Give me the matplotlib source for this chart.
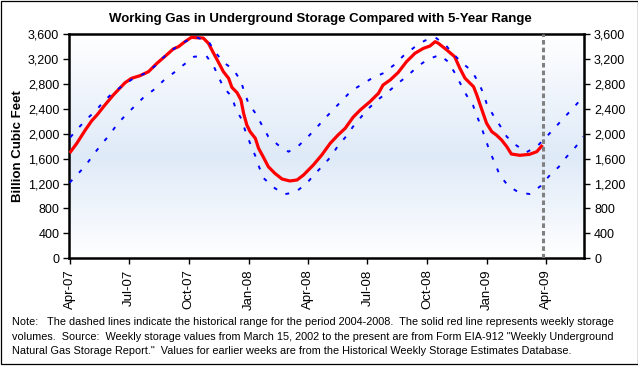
import numpy as np
import pandas as pd
import matplotlib
matplotlib.use("Agg")
import matplotlib.pyplot as plt
import matplotlib.dates as mdates
from matplotlib.colors import LinearSegmentedColormap
from matplotlib.patches import Rectangle

plt.rcParams['font.family'] = ['Liberation Sans', 'DejaVu Sans']

# weekly working gas in storage, Bcf
storage_dates = [
    "2007-04-01", "2007-04-12", "2007-04-25", "2007-05-05", "2007-05-13", "2007-05-23",
    "2007-06-07", "2007-06-25", "2007-07-05", "2007-07-18", "2007-07-31", "2007-08-13",
    "2007-08-26", "2007-09-07", "2007-09-15", "2007-09-25", "2007-10-05", "2007-10-13",
    "2007-10-23", "2007-10-31", "2007-11-08", "2007-11-15", "2007-11-23", "2007-12-01",
    "2007-12-06", "2007-12-14", "2007-12-20", "2007-12-24", "2007-12-29", "2008-01-03",
    "2008-01-11", "2008-01-16", "2008-01-23", "2008-01-31", "2008-02-10", "2008-02-21",
    "2008-03-04", "2008-03-15", "2008-03-25", "2008-04-04", "2008-04-09", "2008-04-22",
    "2008-05-05", "2008-05-17", "2008-05-28", "2008-06-09", "2008-06-20", "2008-07-05",
    "2008-07-18", "2008-07-25", "2008-08-05", "2008-08-17", "2008-08-30", "2008-09-12",
    "2008-09-25", "2008-10-05", "2008-10-13", "2008-10-18", "2008-10-31", "2008-11-12",
    "2008-11-20", "2008-11-28", "2008-12-11", "2008-12-16", "2008-12-23", "2008-12-31",
    "2009-01-08", "2009-01-15", "2009-01-23", "2009-01-31", "2009-02-07", "2009-02-20",
    "2009-03-07", "2009-03-18", "2009-03-27",
]
storage_values = [
    1690, 1846, 2059, 2209, 2300, 2433,
    2621, 2818, 2889, 2931, 2995, 3130,
    3247, 3359, 3396, 3477, 3547, 3540,
    3536, 3451, 3290, 3155, 2995, 2889,
    2744, 2658, 2541, 2327, 2139, 2032,
    1926, 1765, 1631, 1470, 1364, 1273,
    1241, 1257, 1337, 1444, 1497, 1658,
    1846, 1979, 2087, 2263, 2380, 2514,
    2648, 2781, 2862, 2979, 3155, 3290,
    3370, 3407, 3477, 3451, 3343, 3236,
    3049, 2889, 2754, 2621, 2407, 2167,
    2032, 1979, 1899, 1792, 1674, 1653,
    1669, 1711, 1818,
]

# 5-year range 2004-2008, upper bound
max_dates = [
    "2007-04-02", "2007-04-14", "2007-04-27", "2007-05-12", "2007-05-24", "2007-06-07",
    "2007-06-23", "2007-07-08", "2007-07-28", "2007-08-10", "2007-08-24", "2007-09-09",
    "2007-09-27", "2007-10-13", "2007-11-01", "2007-11-10", "2007-11-23", "2007-12-08",
    "2007-12-19", "2007-12-31", "2008-01-13", "2008-01-21", "2008-01-31", "2008-02-15",
    "2008-03-02", "2008-03-17", "2008-04-01", "2008-04-14", "2008-04-27", "2008-05-10",
    "2008-05-24", "2008-06-06", "2008-06-21", "2008-07-08", "2008-07-25", "2008-08-11",
    "2008-08-25", "2008-09-11", "2008-09-27", "2008-10-13", "2008-10-29", "2008-11-08",
    "2008-11-23", "2008-12-08", "2008-12-17", "2008-12-25", "2008-12-31", "2009-01-10",
    "2009-01-20", "2009-01-31", "2009-02-14", "2009-03-02", "2009-03-19", "2009-04-02",
    "2009-04-15", "2009-04-28", "2009-05-11", "2009-05-24", "2009-05-29",
]
max_values = [
    1942, 2087, 2231, 2380, 2525, 2664,
    2781, 2889, 2979, 3086, 3236, 3370,
    3488, 3547, 3467, 3316, 3146, 3033,
    2862, 2498, 2300, 2139, 1952, 1818,
    1711, 1802, 1952, 2097, 2247, 2391,
    2541, 2685, 2781, 2889, 2969, 3103,
    3247, 3386, 3493, 3547, 3423, 3300,
    3139, 3011, 2851, 2674, 2487, 2300,
    2139, 1952, 1818, 1701, 1802, 1952,
    2097, 2247, 2391, 2541, 2590,
]

# 5-year range 2004-2008, lower bound
min_dates = [
    "2007-04-01", "2007-04-12", "2007-04-25", "2007-05-07", "2007-05-19", "2007-06-01",
    "2007-06-13", "2007-06-26", "2007-07-09", "2007-07-23", "2007-08-09", "2007-08-24",
    "2007-09-08", "2007-09-24", "2007-10-09", "2007-10-28", "2007-11-08", "2007-11-23",
    "2007-12-06", "2007-12-12", "2007-12-21", "2007-12-27", "2008-01-03", "2008-01-11",
    "2008-01-17", "2008-01-24", "2008-02-08", "2008-02-24", "2008-03-12", "2008-03-29",
    "2008-04-09", "2008-04-23", "2008-05-06", "2008-05-16", "2008-05-29", "2008-06-09",
    "2008-06-21", "2008-07-03", "2008-07-18", "2008-08-02", "2008-08-17", "2008-09-02",
    "2008-09-17", "2008-10-02", "2008-10-20", "2008-11-02", "2008-11-12", "2008-11-30",
    "2008-12-10", "2008-12-17", "2008-12-24", "2009-01-05", "2009-01-13", "2009-01-20",
    "2009-02-02", "2009-02-19", "2009-03-07", "2009-03-24", "2009-04-06", "2009-04-21",
    "2009-05-03", "2009-05-17", "2009-05-28",
]
min_values = [
    1214, 1337, 1481, 1658, 1818, 1979,
    2151, 2300, 2433, 2578, 2712, 2862,
    2979, 3114, 3236, 3247, 3086, 2744,
    2594, 2396, 2231, 2032, 1846, 1642,
    1460, 1284, 1140, 1027, 1059, 1193,
    1326, 1481, 1631, 1792, 1952, 2113,
    2263, 2407, 2552, 2674, 2808, 2942,
    3086, 3194, 3263, 3155, 2979, 2621,
    2460, 2263, 2075, 1711, 1524, 1337,
    1165, 1053, 1032, 1160, 1321, 1470,
    1631, 1792, 1952,
]

latest_week = "2009-03-27"
x_start, x_end = "2007-03-31", "2009-05-30"
y_ticks = list(range(0, 3601, 400))

title = "Working Gas in Underground Storage Compared with 5-Year Range"
note_lines = [
    "Note:   The dashed lines indicate the historical range for the period 2004-2008.  "
    "The solid red line represents weekly storage",
    "volumes.  Source:  Weekly storage values from March 15, 2002 to the present are from "
    "Form EIA-912 \"Weekly Underground",
    "Natural Gas Storage Report.\"  Values for earlier weeks are from the Historical "
    "Weekly Storage Estimates Database.",
]

fig = plt.figure(figsize=(6.38, 3.66), dpi=100)
ax = fig.add_axes([69 / 638, 1 - 258.3 / 366, (584.3 - 69) / 638, (258.3 - 34) / 366])

# background: white -> light blue -> white
cmap = LinearSegmentedColormap.from_list(
    "bg", [(0, "#ffffff"), (0.45, "#dfeaf8"), (1, "#ffffff")])
grad = np.linspace(0, 1, 256).reshape(-1, 1)
ax.imshow(grad, extent=[0, 1, 0, 1], transform=ax.transAxes, origin="lower",
          aspect="auto", cmap=cmap, zorder=0)

ax.plot(pd.to_datetime(storage_dates), storage_values, color="#ff0000", lw=2.3,
        solid_capstyle="butt", zorder=3)
ax.plot(pd.to_datetime(max_dates), max_values, color="#0000ff", lw=1.4,
        linestyle=(0, (2, 5)), zorder=4)
ax.plot(pd.to_datetime(min_dates), min_values, color="#0000ff", lw=1.4,
        linestyle=(0, (2, 5)), zorder=4)
ax.axvline(pd.Timestamp(latest_week), color="#808080", lw=2.2,
           linestyle=(0, (1.5, 1)), zorder=5)

ax.set_xlim(pd.Timestamp(x_start), pd.Timestamp(x_end))
ax.set_ylim(0, 3600)
ax.set_yticks(y_ticks)
ax.set_yticklabels([f"{v:,}" for v in y_ticks])
ax.xaxis.set_major_locator(mdates.MonthLocator(bymonth=[1, 4, 7, 10]))
ax.xaxis.set_major_formatter(mdates.DateFormatter("%b-%y"))

for s in ax.spines.values():
    s.set_linewidth(1.8)
ax.tick_params(axis="both", direction="out", length=4, width=1, labelsize=9, pad=3)
ax.tick_params(axis="y", right=True, labelright=True)
ax.tick_params(axis="x", rotation=90, pad=4, labelsize=9.5)

ax.set_ylabel("Billion Cubic Feet", fontsize=9.5, fontweight="bold", labelpad=3)
fig.text(320 / 638, 1 - 19 / 366, title, ha="center", va="center",
         fontsize=9.5, fontweight="bold")

for i, line in enumerate(note_lines):
    fig.text(12 / 638, 1 - (322 + i * 14.7) / 366, line, ha="left", va="center",
             fontsize=7.8)

fig.patches.append(Rectangle((0.5 / 638, 1 - 363.5 / 366), 637 / 638, 363 / 366,
                             transform=fig.transFigure, fill=False,
                             edgecolor="black", lw=0.9))

fig.savefig("out.png", dpi=100)
